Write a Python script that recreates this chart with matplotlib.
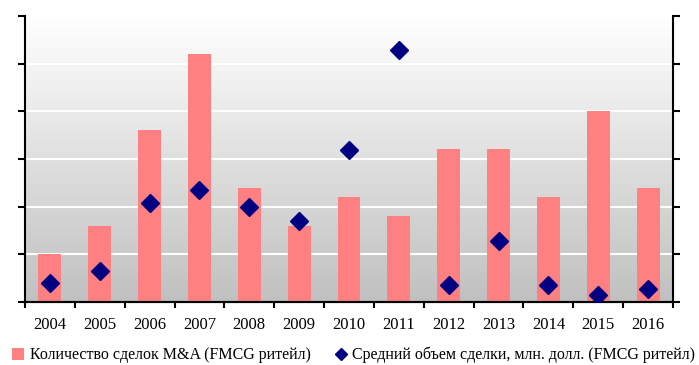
import numpy as np
import matplotlib
matplotlib.use("Agg")
import matplotlib.pyplot as plt
from matplotlib.lines import Line2D
from matplotlib.patches import Patch

years = ["2004", "2005", "2006", "2007", "2008", "2009", "2010",
         "2011", "2012", "2013", "2014", "2015", "2016"]
deal_count = [5, 8, 18, 26, 12, 8, 11, 9, 16, 16, 11, 20, 12]
avg_deal_size = [20, 33, 104, 117, 100, 85, 159, 264, 18, 64, 18, 7, 14]

count_label = "Количество сделок M&A (FMCG ритейл)"
size_label = "Средний объем сделки, млн. долл. (FMCG ритейл)"

plt.rcParams["font.family"] = ["Liberation Serif", "DejaVu Serif"]

fig = plt.figure(figsize=(6.99, 3.65), dpi=100)
ax = fig.add_axes([25 / 699, 1 - 302 / 365, 648 / 699, 286 / 365])
ax2 = ax.twinx()

x = np.arange(len(years))

# vertical grey gradient behind the plot
grad = np.linspace(1.0, 0.0, 256).reshape(-1, 1)
ax.imshow(grad, extent=[0, 1, 0, 1], transform=ax.transAxes,
          cmap=matplotlib.colors.LinearSegmentedColormap.from_list(
              "bg", ["#c0c0c0", "#ffffff"]),
          aspect="auto", zorder=0, origin="upper")

ax.bar(x, deal_count, width=0.46, color="#ff8080", zorder=2)
ax.set_ylim(0, 30)
ax.set_yticks(np.arange(0, 31, 5))
ax.set_yticklabels([])
ax.set_xlim(-0.5, len(years) - 0.5)
ax.set_xticks(x)
ax.set_xticklabels(years, fontsize=12)
ax.tick_params(axis="x", length=0, pad=11)
ax.set_xticks(np.arange(-0.5, len(years)), minor=True)
ax.tick_params(axis="x", which="minor", length=4, width=1.5, direction="out")
ax.tick_params(axis="y", length=5, width=1.5, direction="out")
for v in range(5, 30, 5):
    ax.axhline(v, color="white", lw=1.5, zorder=1)

ax2.plot(x, avg_deal_size, linestyle="none", marker="D", markersize=9,
         color="#000080", zorder=3)
ax2.set_ylim(0, 300)
ax2.set_yticks(np.arange(0, 301, 50))
ax2.set_yticklabels([])
ax2.tick_params(axis="y", length=5, width=1.5, direction="out")

for a in (ax, ax2):
    a.spines["top"].set_visible(False)
    for s in ("left", "right", "bottom"):
        a.spines[s].set_linewidth(1.5)
ax2.spines["left"].set_visible(False)
ax.spines["right"].set_visible(False)

ax.set_zorder(ax2.get_zorder() - 1)
ax2.patch.set_visible(False)

handles = [
    Patch(facecolor="#ff8080", edgecolor="none", label=count_label),
    Line2D([], [], linestyle="none", marker="D", markersize=6.5,
           color="#000080", label=size_label),
]
fig.legend(handles=handles, loc="center", bbox_to_anchor=(0.506, 1 - 355 / 365),
           ncol=2, frameon=False, fontsize=11.5, handlelength=0.75,
           handleheight=0.75, handletextpad=0.35, columnspacing=1.5,
           borderpad=0, borderaxespad=0)

fig.savefig("out.png", dpi=100)
